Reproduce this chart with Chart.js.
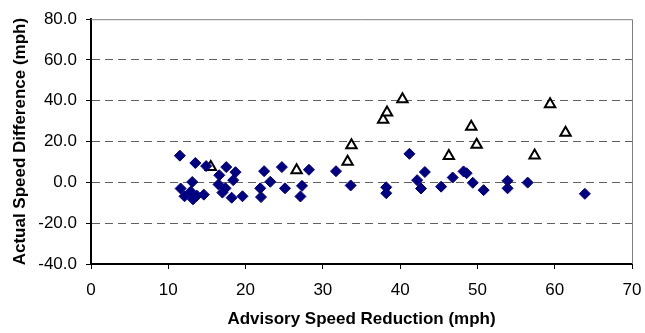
<!DOCTYPE html>
<html>
<head>
<meta charset="utf-8">
<script src="https://cdn.jsdelivr.net/npm/chart.js@4/dist/chart.umd.min.js"></script>
<style>
  html, body { margin: 0; padding: 0; background: #fff; }
  #wrap { width: 645px; height: 333px; }
</style>
</head>
<body>
<div id="wrap"><canvas id="myChart" width="645" height="333"></canvas></div>
<script>
// diamonds (navy)
var diamondX = [11.5, 13.5, 14.9, 17.5, 18.7, 16.6, 18.4, 13.1, 16.5, 11.6, 12.9, 12.1, 13.2, 14.6, 13.7,
    17.4, 18.2, 19.6, 17.0, 22.4, 24.7, 23.2, 21.9, 22.0, 25.1, 27.3, 27.1, 28.2, 31.7, 33.6,
    38.2, 38.2, 41.2, 43.2, 42.2, 42.7, 45.3, 46.8, 48.2, 48.6, 49.4, 50.8, 53.9, 53.9, 56.5, 63.9];
var diamondY = [13.1, 9.5, 8.0, 7.5, 5.0, 3.5, 1.1, 0.2, -1.0, -3.0, -4.5, -6.8, -8.3, -6.0, -6.5,
    -2.9, -7.5, -6.8, -5.0, 5.5, 7.5, 0.3, -2.9, -7.2, -2.9, -1.7, -6.9, 6.2, 5.5, -1.5,
    -2.4, -5.3, 14.0, 5.1, 1.1, -3.0, -2.1, 2.4, 5.4, 4.5, -0.2, -3.8, 0.8, -2.9, -0.1, -5.6];
// triangles (open)
var triangleX = [15.5, 26.6, 33.2, 33.7, 37.8, 38.3, 40.3, 46.3, 49.2, 49.9, 57.4, 59.4, 61.4];
var triangleY = [7.5, 5.9, 10.1, 18.2, 30.7, 34.3, 40.7, 13.0, 27.3, 18.4, 13.2, 38.3, 24.3];

var xTicks = [0, 10, 20, 30, 40, 50, 60, 70];
var yTicks = [80, 60, 40, 20, 0, -20, -40];

function toPoints(xs, ys) {
    let pts = [];
    for (let i in xs) {
        pts.push({ x: xs[i], y: ys[i] });
    }
    return pts;
}

var font = 'Liberation Sans, Arial, sans-serif';

// gray frame on top and right of the plot area
var frame = {
    id: 'frame',
    afterDraw: function (chart) {
        let a = chart.chartArea;
        let ctx = chart.ctx;
        ctx.save();
        ctx.strokeStyle = '#808080';
        ctx.lineWidth = 1;
        ctx.beginPath();
        ctx.moveTo(a.left, a.top + 0.5);
        ctx.lineTo(a.right + 0.5, a.top + 0.5);
        ctx.lineTo(a.right + 0.5, a.bottom);
        ctx.stroke();
        ctx.restore();
    }
};

var canvas = document.getElementById('myChart');
new Chart(canvas, {
    type: 'scatter',
    data: {
        datasets: [{
            label: 'diamonds',
            data: toPoints(diamondX, diamondY),
            pointStyle: 'rectRot',
            pointRadius: 5.5,
            pointBackgroundColor: '#000080',
            pointBorderColor: '#000080',
            pointBorderWidth: 1
        }, {
            label: 'triangles',
            data: toPoints(triangleX, triangleY),
            pointStyle: 'triangle',
            pointRadius: 6,
            pointBackgroundColor: '#ffffff',
            pointBorderColor: '#000000',
            pointBorderWidth: 2
        }]
    },
    options: {
        responsive: false,
        animation: false,
        layout: { padding: { left: 0, top: 14, right: 13, bottom: 0 } },
        plugins: { legend: { display: false }, tooltip: { enabled: false } },
        scales: {
            x: {
                type: 'linear',
                min: 0, max: 70,
                afterFit: function (s) { s.height = 69; s.paddingRight = 0; },
                afterBuildTicks: function (s) { s.ticks = xTicks.map(v => ({ value: v })); },
                border: { display: true, color: '#000', width: 2 },
                grid: { drawOnChartArea: false, drawTicks: true, tickLength: 5, tickColor: '#000' },
                ticks: { color: '#000', font: { family: font, size: 17 }, padding: 11, maxRotation: 0 },
                title: {
                    display: true, text: 'Advisory Speed Reduction (mph)', color: '#000',
                    font: { family: font, size: 17, weight: 'bold' }, padding: { top: 0, bottom: 3 }
                }
            },
            y: {
                type: 'linear',
                min: -40, max: 80,
                afterFit: function (s) { s.width = 91; },
                afterBuildTicks: function (s) { s.ticks = yTicks.map(v => ({ value: v })); },
                border: { display: true, color: '#000', width: 2, dash: [8, 5] },
                grid: {
                    drawTicks: true, tickLength: 5, tickColor: '#000', tickBorderDash: [],
                    color: function (c) {
                        let v = c.tick ? c.tick.value : null;
                        return (v === 80 || v === -40) ? 'rgba(0,0,0,0)' : '#606060';
                    }
                },
                ticks: {
                    color: '#000', font: { family: font, size: 17 }, padding: 9,
                    callback: function (v) { return Number(v).toFixed(1); }
                },
                title: {
                    display: true, text: 'Actual Speed Difference (mph)', color: '#000',
                    font: { family: font, size: 17, weight: 'bold' }, padding: { top: 10, bottom: 0 }
                }
            }
        }
    },
    plugins: [frame]
});
</script>
</body>
</html>
